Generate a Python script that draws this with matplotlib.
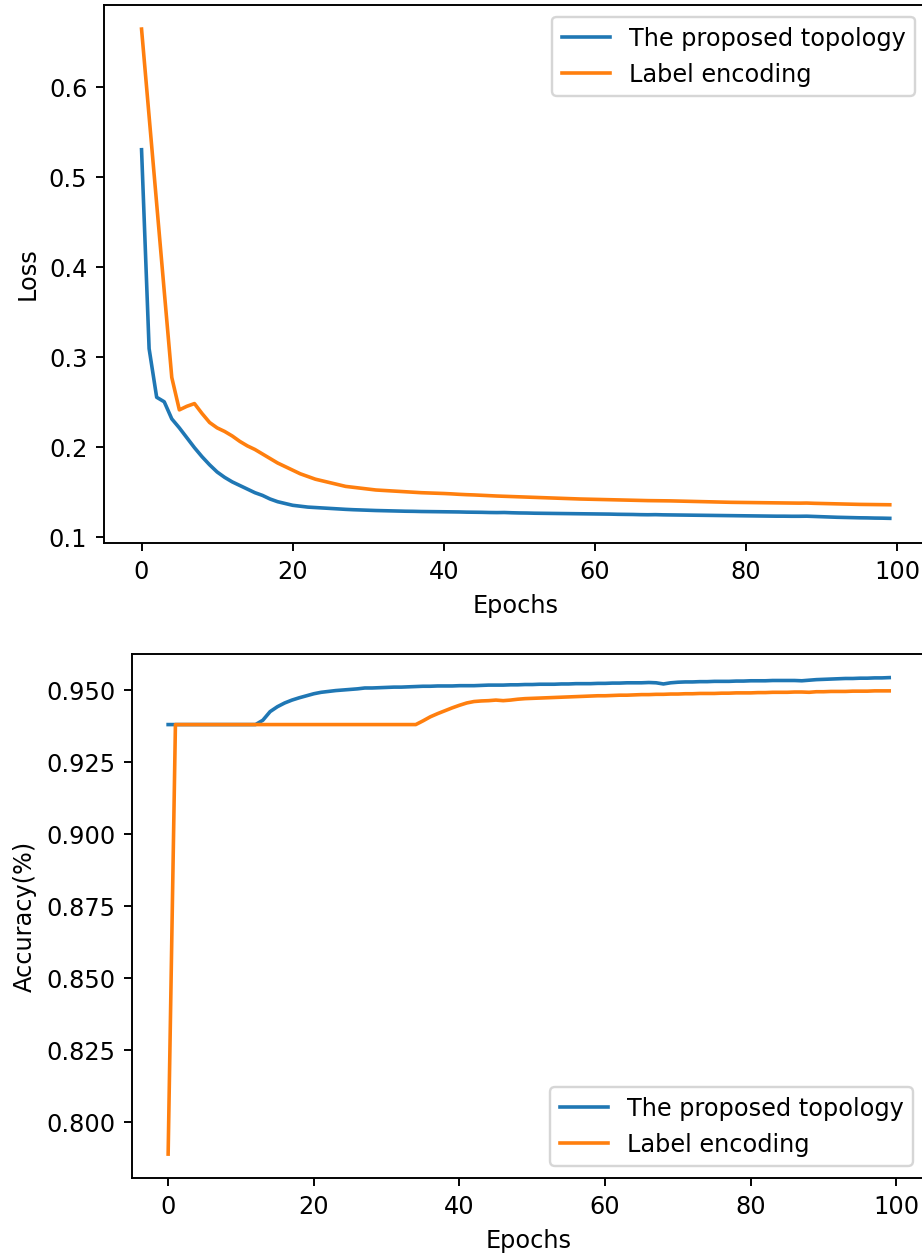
import numpy as np
import matplotlib
matplotlib.use("Agg")
from matplotlib import pyplot as plt

# loss per epoch
loss_topology = [0.530, 0.309, 0.255, 0.250, 0.231, 0.221, 0.210, 0.199, 0.189, 0.180,
                 0.172, 0.166, 0.161, 0.157, 0.153, 0.149, 0.146, 0.142, 0.139, 0.137,
                 0.135, 0.134, 0.133, 0.1325, 0.132, 0.1315, 0.131, 0.1305, 0.1301, 0.1298,
                 0.1295, 0.1292, 0.1290, 0.1288, 0.1286, 0.1284, 0.1283, 0.1281, 0.1280, 0.1279,
                 0.1278, 0.1277, 0.1276, 0.1274, 0.1273, 0.1272, 0.1270, 0.1269, 0.1270, 0.1267,
                 0.1265, 0.1264, 0.1262, 0.1261, 0.1260, 0.1259, 0.1258, 0.1257, 0.1256, 0.1255,
                 0.1254, 0.1253, 0.1252, 0.1250, 0.1249, 0.1248, 0.1246, 0.1245, 0.1246, 0.1244,
                 0.1243, 0.1242, 0.1241, 0.1240, 0.1239, 0.1238, 0.1237, 0.1236, 0.1235, 0.1234,
                 0.1233, 0.1232, 0.1231, 0.1230, 0.1229, 0.1229, 0.1228, 0.1228, 0.1229, 0.1226,
                 0.1223, 0.1220, 0.1217, 0.1215, 0.1213, 0.1211, 0.1210, 0.1208, 0.1207, 0.1205]
loss_label = [0.664, 0.567, 0.470, 0.373, 0.277, 0.241, 0.245, 0.248, 0.237, 0.227,
              0.221, 0.217, 0.212, 0.206, 0.201, 0.197, 0.192, 0.187, 0.182, 0.178,
              0.174, 0.170, 0.167, 0.164, 0.162, 0.160, 0.158, 0.156, 0.155, 0.154,
              0.153, 0.152, 0.1515, 0.151, 0.1505, 0.150, 0.1495, 0.149, 0.1487, 0.1484,
              0.1481, 0.1477, 0.1472, 0.1468, 0.1465, 0.1461, 0.1457, 0.1453, 0.1450, 0.1447,
              0.1444, 0.1441, 0.1438, 0.1435, 0.1432, 0.1429, 0.1426, 0.1423, 0.1420, 0.1418,
              0.1416, 0.1414, 0.1412, 0.1410, 0.1408, 0.1406, 0.1404, 0.1402, 0.1401, 0.1400,
              0.1399, 0.1397, 0.1395, 0.1393, 0.1391, 0.1389, 0.1387, 0.1385, 0.1383, 0.1382,
              0.1381, 0.1380, 0.1379, 0.1378, 0.1377, 0.1376, 0.1375, 0.1374, 0.1375, 0.1372,
              0.1370, 0.1368, 0.1366, 0.1364, 0.1362, 0.1360, 0.1359, 0.1358, 0.1357, 0.1356]

# accuracy per epoch
acc_topology = [0.938] * 13 + [
    0.9395, 0.9425, 0.9442, 0.9455, 0.9465, 0.9473, 0.9480,
    0.9487, 0.9492, 0.9495, 0.9498, 0.9500, 0.9502, 0.9504, 0.9507, 0.9507, 0.9508,
    0.9509, 0.9510, 0.9510, 0.9511, 0.9512, 0.9513, 0.9513, 0.9514, 0.9514, 0.9514,
    0.9515, 0.9515, 0.9515, 0.9516, 0.9517, 0.9517, 0.9517, 0.9518, 0.9518, 0.9519,
    0.9519, 0.9520, 0.9520, 0.9520, 0.9521, 0.9521, 0.9522, 0.9522, 0.9522, 0.9523,
    0.9523, 0.9524, 0.9524, 0.9525, 0.9525, 0.9525, 0.9526, 0.9525, 0.9521, 0.9525,
    0.9527, 0.9528, 0.9528, 0.9529, 0.9529, 0.9530, 0.9530, 0.9530, 0.9531, 0.9531,
    0.9532, 0.9532, 0.9532, 0.9533, 0.9533, 0.9533, 0.9533, 0.9532, 0.9534, 0.9536,
    0.9537, 0.9538, 0.9539, 0.9540, 0.9540, 0.9541, 0.9541, 0.9542, 0.9542, 0.9543]
acc_label = [0.7889] + [0.938] * 34 + [
    0.9393, 0.9407, 0.9418, 0.9428, 0.9438,
    0.9447, 0.9455, 0.9460, 0.9462, 0.9463, 0.9465, 0.9463, 0.9465, 0.9468, 0.9470,
    0.9471, 0.9472, 0.9473, 0.9474, 0.9475, 0.9476, 0.9477, 0.9478, 0.9479, 0.9480,
    0.9480, 0.9481, 0.9482, 0.9482, 0.9483, 0.9484, 0.9484, 0.9485, 0.9485, 0.9486,
    0.9486, 0.9487, 0.9487, 0.9488, 0.9488, 0.9488, 0.9489, 0.9489, 0.9490, 0.9490,
    0.9490, 0.9491, 0.9491, 0.9492, 0.9492, 0.9492, 0.9493, 0.9493, 0.9492, 0.9494,
    0.9494, 0.9495, 0.9495, 0.9495, 0.9496, 0.9496, 0.9496, 0.9497, 0.9497, 0.9497]

epochs = np.arange(len(loss_topology))
names = ['The proposed topology', 'Label encoding']

dpi = 172.8
fig = plt.figure(figsize=(922.4 / dpi, 1255.4 / dpi), dpi=dpi)

ax1 = fig.add_axes([0.1129, 0.5673, 0.8923, 0.4287])
ax1.plot(epochs, loss_topology)
ax1.plot(epochs, loss_label)
ax1.set_xlabel("Epochs")
ax1.set_ylabel("Loss")
ax1.legend(names, loc='upper right')

ax2 = fig.add_axes([0.1432, 0.0614, 0.8599, 0.4175])
ax2.plot(epochs, acc_topology)
ax2.plot(epochs, acc_label)
ax2.set_xlabel("Epochs")
ax2.set_ylabel("Accuracy(%)")
ax2.legend(names, loc='lower right')

fig.savefig("out.png", dpi=dpi)
